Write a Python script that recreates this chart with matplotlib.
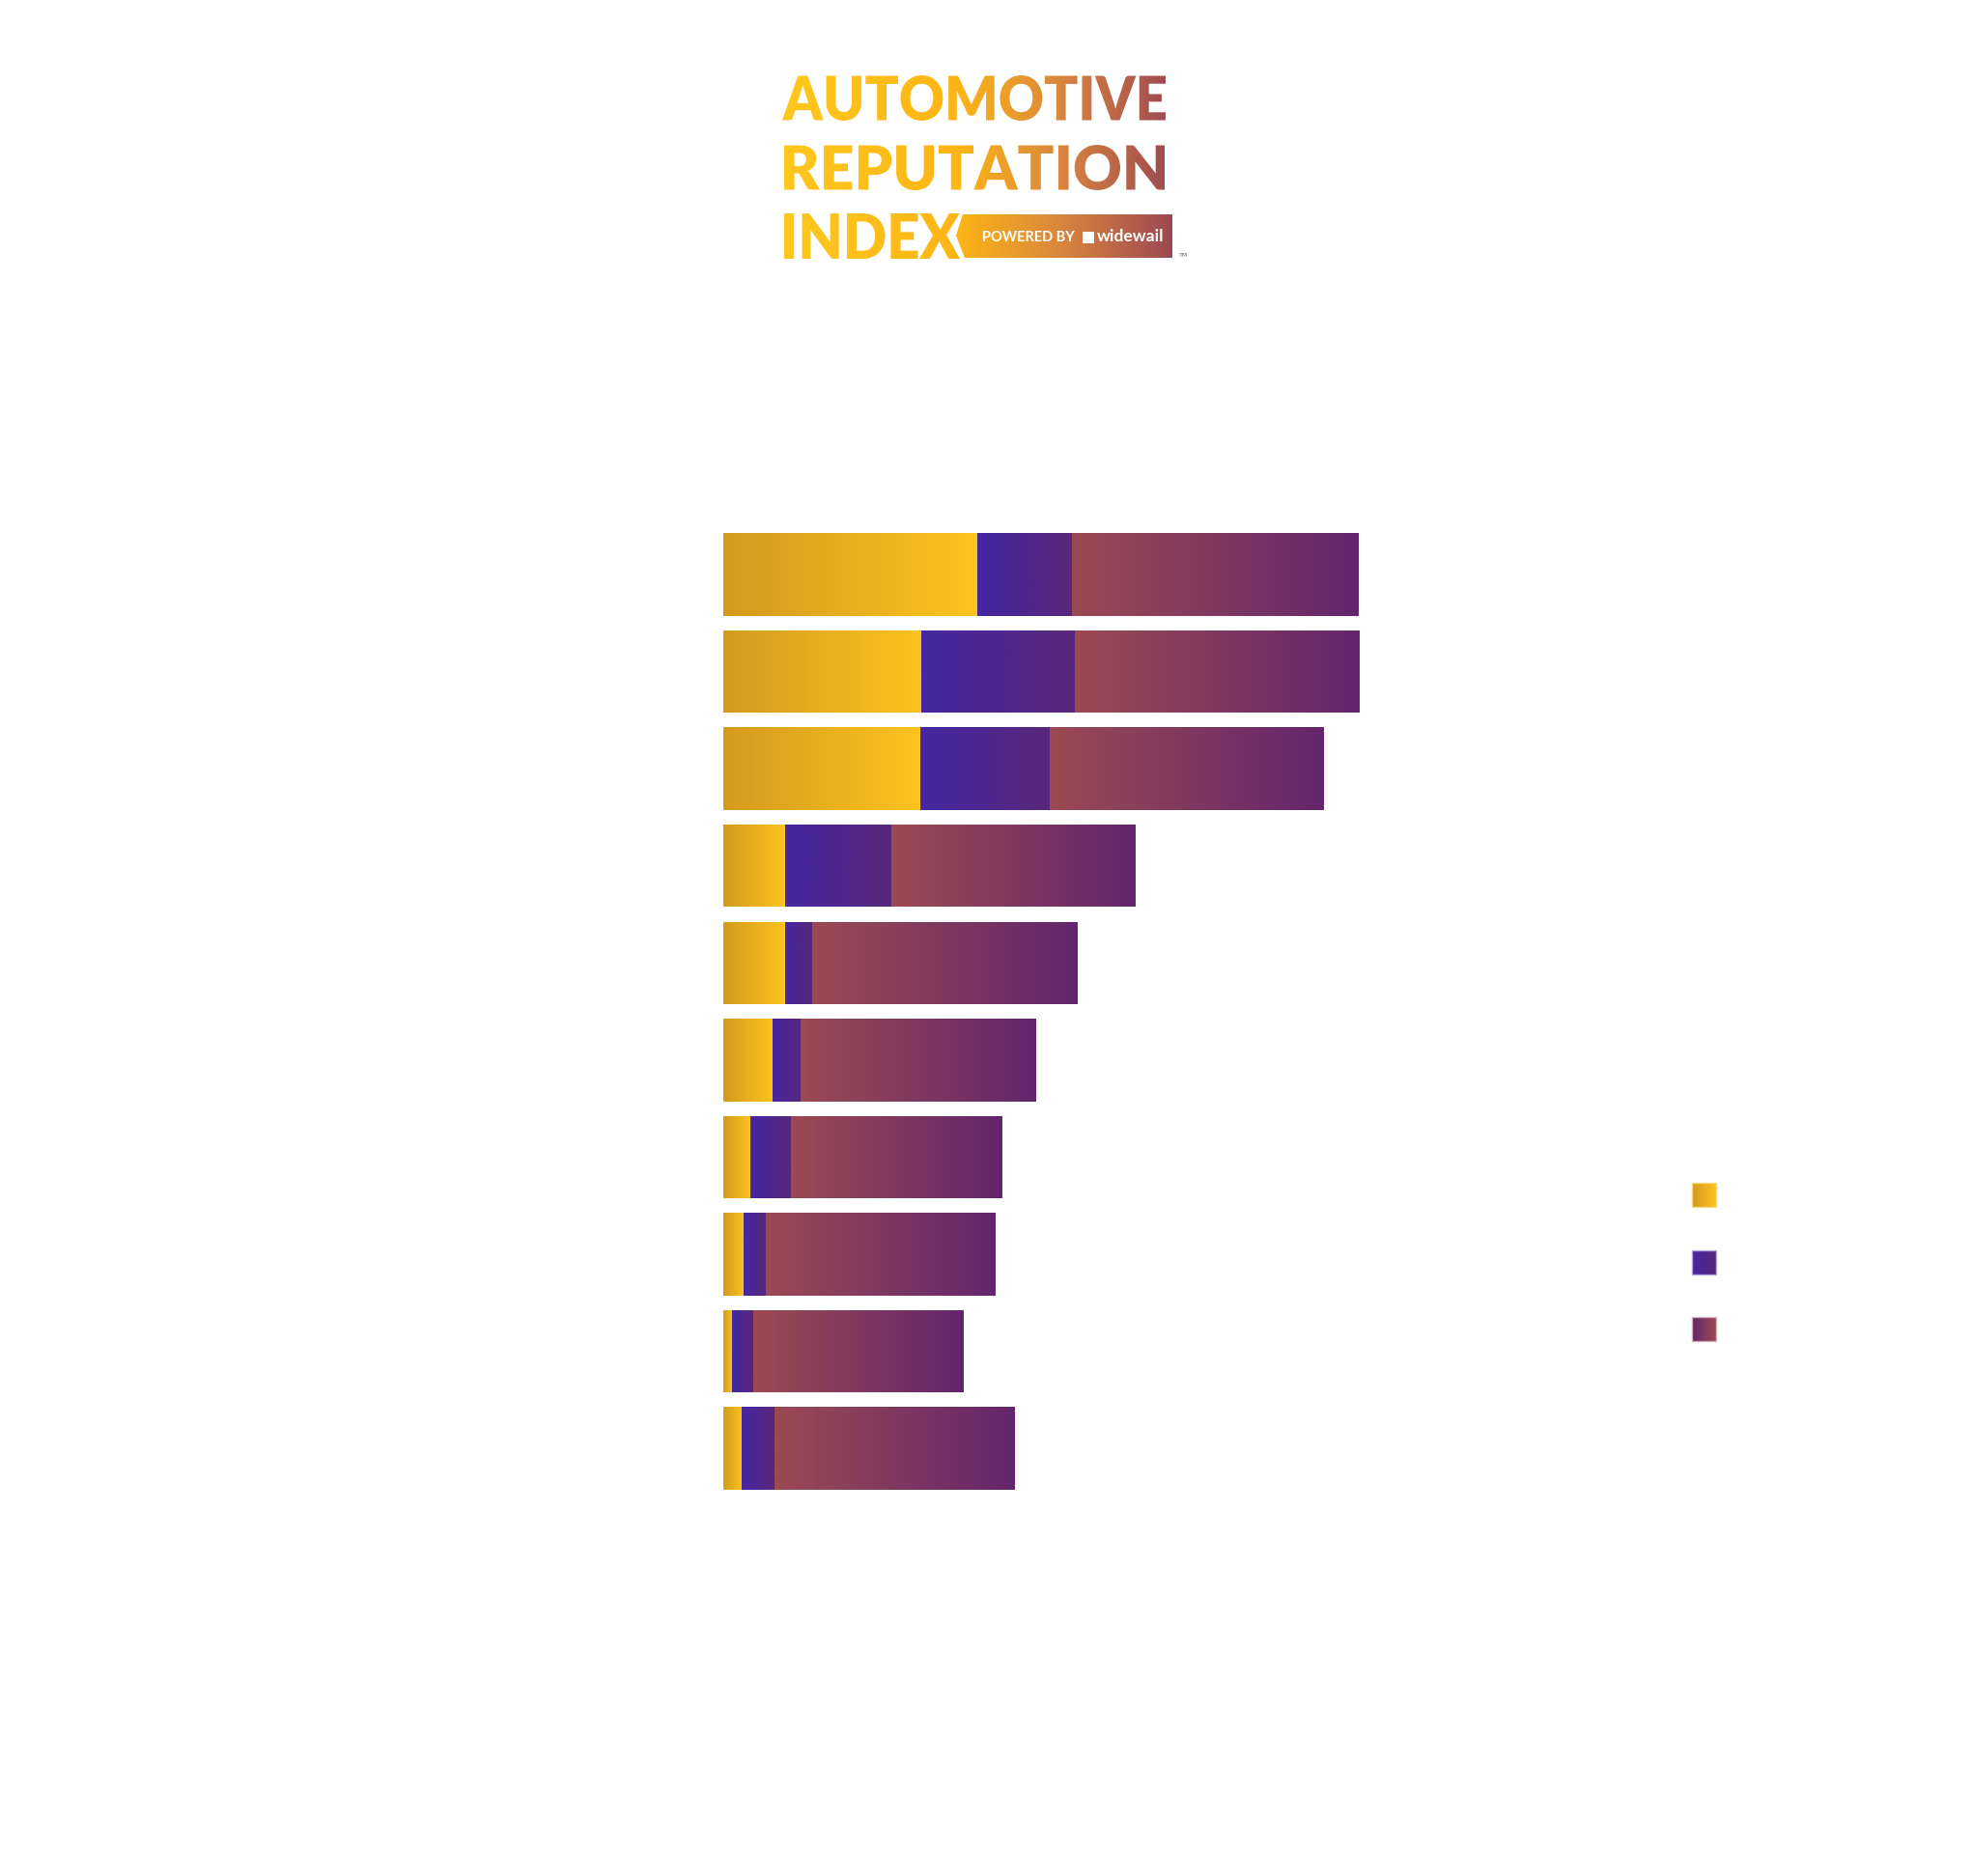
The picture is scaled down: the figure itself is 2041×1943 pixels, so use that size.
import numpy as np
import matplotlib.pyplot as plt
from matplotlib.colors import LinearSegmentedColormap
from matplotlib.textpath import TextPath
from matplotlib.font_manager import FontProperties
from matplotlib.patches import PathPatch, Polygon, Rectangle
from matplotlib.transforms import Affine2D

# data (labels are not visible in the original, only the bars)
positions = list(range(10))
yellow_vals = [39.9, 31.2, 31.0, 9.7, 9.7, 7.7, 4.3, 3.2, 1.4, 2.9]
purple_vals = [15.0, 24.1, 20.4, 16.8, 4.2, 4.5, 6.3, 3.5, 3.3, 5.1]
red_vals = [45.1, 44.7, 43.1, 38.3, 41.7, 37.0, 33.2, 36.1, 33.0, 37.7]

cm_yellow = LinearSegmentedColormap.from_list("y", ["#D39A1E", "#FDC31F"])
cm_purple = LinearSegmentedColormap.from_list("p", ["#4527A2", "#58277A"])
cm_red = LinearSegmentedColormap.from_list("r", ["#9C4A52", "#63266D"])
cm_red_leg = LinearSegmentedColormap.from_list("rl", ["#63266D", "#9C4A52"])
cm_logo = LinearSegmentedColormap.from_list(
    "logo", [(0, "#FFC81E"), (0.45, "#FDB515"), (0.72, "#D9853F"), (1, "#9C4852")])

grad = np.linspace(0, 1, 256)[None, :]

fig = plt.figure(figsize=(20.41, 19.43), dpi=100)
fig.patch.set_facecolor("white")

# main bar chart
ax = fig.add_axes([749 / 2041, 0.2020, 790 / 2041, 0.5177])
left = np.zeros(len(positions))
for vals, cmap in [(yellow_vals, cm_yellow), (purple_vals, cm_purple), (red_vals, cm_red)]:
    bars = ax.barh(positions, vals, left=left, height=0.85, color="none", linewidth=0)
    for r in bars:
        x0, y0 = r.get_x(), r.get_y()
        im = ax.imshow(grad, cmap=cmap, aspect="auto", interpolation="bilinear",
                       extent=[x0, x0 + r.get_width(), y0 + r.get_height(), y0])
        im.set_clip_path(r)
    left = left + np.array(vals)
ax.set_xlim(0, 120)
ax.set_ylim(9.5, -0.5)
ax.axis("off")

# overlay in pixel coords for logo + legend swatches
ov = fig.add_axes([0, 0, 1, 1])
ov.set_xlim(0, 2041)
ov.set_ylim(1943, 0)
ov.axis("off")

fp = FontProperties(family="Lato", weight="heavy")
logo_x0, logo_x1 = 810, 1214


def gradient_fill(patch):
    ov.add_patch(patch)
    im = ov.imshow(grad, cmap=cm_logo, aspect="auto", interpolation="bilinear",
                   extent=[logo_x0, logo_x1, 280, 70])
    im.set_clip_path(patch)


def fit_word(s, x0, x1, ytop, ybot):
    tp = TextPath((0, 0), s, prop=fp, size=100)
    bb = tp.get_extents()
    tr = Affine2D().translate(-bb.x0, -bb.y0).scale(
        (x1 - x0) / bb.width, -(ybot - ytop) / bb.height).translate(x0, ybot)
    patch = PathPatch(tr.transform_path(tp), facecolor="none", edgecolor="none")
    gradient_fill(patch)


fit_word("AUTOMOTIVE", 810, 1207, 78, 125)
fit_word("REPUTATION", 812, 1206, 150, 197)
fit_word("INDEX", 812, 994, 221, 268)

badge = Polygon([(997, 222), (1214, 222), (1214, 267), (999, 267), (990, 244)],
                closed=True, facecolor="none", edgecolor="none")
gradient_fill(badge)
ov.set_xlim(0, 2041)
ov.set_ylim(1943, 0)

ov.text(1017, 246, "POWERED BY", color="white", fontsize=10.5, fontweight="bold",
        family="Lato", va="center", ha="left")
ov.add_patch(Rectangle((1121, 240), 12, 12, facecolor="white", edgecolor="none"))
ov.text(1136, 245, "widewail", color="white", fontsize=12.5, fontweight="bold",
        family="Lato", va="center", ha="left")
ov.text(1221, 264, "TM", color="#666666", fontsize=4.5, va="center", ha="left")

# legend swatches
for (ytop, cmap, edge) in [(1225, cm_yellow, "#F7D98A"), (1295, cm_purple, "#B7A8DE"),
                           (1364, cm_red_leg, "#D3B3C0")]:
    ov.imshow(grad, cmap=cmap, aspect="auto", interpolation="bilinear",
              extent=[1752, 1777, ytop + 25, ytop])
    ov.add_patch(Rectangle((1752, ytop), 25, 25, facecolor="none", edgecolor=edge, linewidth=1))
ov.set_xlim(0, 2041)
ov.set_ylim(1943, 0)

fig.savefig("out.png", dpi=100)
